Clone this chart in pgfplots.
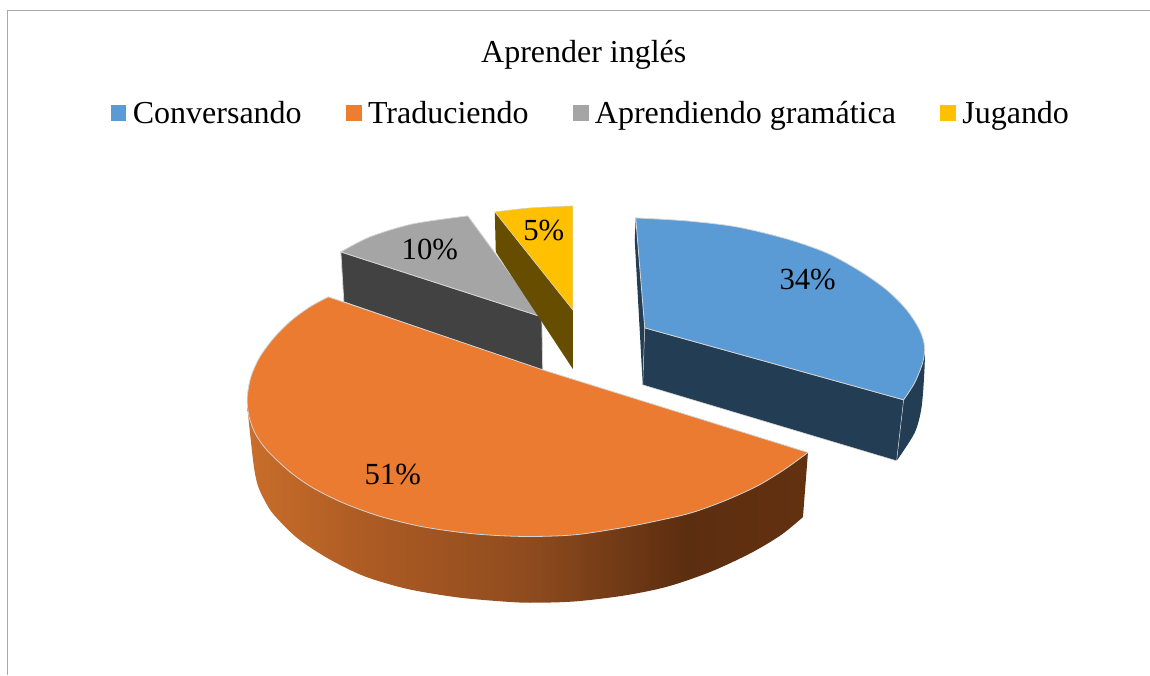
\documentclass[border=0pt]{standalone}
\usepackage{fontspec}
\setmainfont{Liberation Serif}
\usepackage{pgfplots}
\pgfplotsset{compat=1.18}
\definecolor{cblue}{HTML}{5B9BD5}
\definecolor{corange}{HTML}{ED7D31}
\definecolor{ctop}{HTML}{EA7B30}
\definecolor{cgray}{HTML}{A5A5A5}
\definecolor{cyellow}{HTML}{FFC000}
\definecolor{dblue}{HTML}{233D54}
\definecolor{dgray}{HTML}{424242}
\definecolor{dyellow}{HTML}{664D00}
\definecolor{edge}{HTML}{D4D4D4}
\definecolor{frame}{HTML}{A9A9A9}
\pgfdeclarehorizontalshading{orangeside}{100bp}{
 rgb(0bp)=(.788,.431,.169);
 rgb(25bp)=(.788,.431,.169);
 rgb(35bp)=(.682,.361,.141);
 rgb(50bp)=(.561,.294,.118);
 rgb(64bp)=(.361,.180,.063);
 rgb(75bp)=(.384,.192,.063);
 rgb(100bp)=(.384,.192,.063)}
\newcommand{\legsq}[1]{\addlegendimage{legend image code/.code={\fill[#1] (0pt,-7.5pt) rectangle (15pt,7.5pt);}}}
\begin{document}
\begin{tikzpicture}
\begin{axis}[
  width=1150pt,height=675pt,scale only axis,
  xmin=0,xmax=1150,ymin=0,ymax=675,y dir=reverse,
  axis lines=none,clip=false,
  every axis title shift=0pt,
  title={\fontsize{32}{38}\selectfont Aprender inglés},
  title style={at={(axis cs:584,63)},anchor=base,inner sep=0pt},
  legend style={at={(axis cs:590,113)},anchor=center,draw=none,fill=none,
    font=\fontsize{32}{38}\selectfont,legend columns=-1,
    inner sep=0pt,outer sep=0pt,
    /tikz/every even column/.append style={column sep=44pt},
    nodes={inner sep=0pt}},
]
\path (axis cs:0,0) rectangle (axis cs:1150,675);
% frame
\addplot[frame,line width=1pt,forget plot] coordinates {(7.5,675) (7.5,10.5) (1150,10.5)};

% gray slice
\addplot[fill=dgray,draw=edge,line width=0.8pt,forget plot] coordinates {(341,252) (542,317) (543,371) (344,302)} -- cycle;
\addplot[smooth,fill=cgray,draw=edge,line width=0.8pt,forget plot] coordinates {(341,252) (370,237) (413,224) (468,216)} -- (axis cs:542,317) -- cycle;

% yellow slice
\addplot[fill=dyellow,draw=none,forget plot] coordinates {(495,212) (573,310) (573,369) (496,252)} -- cycle;
\addplot[smooth,fill=cyellow,draw=edge,line width=0.5pt,forget plot] coordinates {(495,212) (530,208) (573,206)} -- (axis cs:573,310) -- cycle;

% blue slice
\addplot[fill=dblue,draw=none,forget plot] coordinates {(636,218) (645,328) (643,385) (635,240)} -- cycle;
\addplot[smooth,fill=dblue,draw=none,forget plot] coordinates {(925,347) (925,367) (922,407) (915,433) (897,461)} -- (axis cs:904,400) -- cycle;
\addplot[fill=dblue,draw=edge,line width=0.5pt,forget plot] coordinates {(645,328) (904,400) (897,461) (643,385)} -- cycle;
\addplot[smooth,fill=cblue,draw=edge,line width=0.8pt,forget plot] coordinates {(636,218) (687,221) (737,227) (787,239) (827,253) (860,271) (887,290) (907,310) (920,330) (925,347) (923,363) (915,383) (904,400)} -- (axis cs:645,328) -- cycle;

% orange slice: side then top
\addplot[smooth,shading=orangeside,draw=none,forget plot] coordinates {(247.5,408) (250,432) (254,467) (258,486) (265.5,502) (274,515) (297,538) (327,558) (363.3,576) (406.7,589) (456.7,597.5) (500,601.5) (530,603) (575,601.7) (625,595.7) (668.3,586.7) (711.7,571.7) (751.7,553) (781.7,535) (803.3,517.3)} -- (axis cs:808.3,452.7) -- cycle;
\addplot[smooth,fill=ctop,draw=edge,line width=0.8pt,forget plot] coordinates {(328.5,297) (310,307) (291,321) (274,338) (260,357) (251,377) (247.3,398) (249,416) (255,433) (266.7,450) (290,472) (313,488) (343,503) (380,516.5) (423,527) (473.3,534) (525,536.7) (575,535) (625,527.5) (660,520.5) (691.7,513) (725,501) (758,486) (785,469.5) (808.3,452.7)} -- (axis cs:543,370) -- cycle;

% labels
\node[anchor=base,inner sep=0pt,font=\fontsize{30.7}{36}\selectfont] at (axis cs:808,289.5) {34\%};
\node[anchor=base,inner sep=0pt,font=\fontsize{30.7}{36}\selectfont] at (axis cs:393,485) {51\%};
\node[anchor=base,inner sep=0pt,font=\fontsize{30.7}{36}\selectfont] at (axis cs:430,260) {10\%};
\node[anchor=base,inner sep=0pt,font=\fontsize{30.7}{36}\selectfont] at (axis cs:544,240.5) {5\%};

% legend
\legsq{cblue}\addlegendentry{\hspace{7pt}Conversando}
\legsq{corange}\addlegendentry{\hspace{7pt}Traduciendo}
\legsq{cgray}\addlegendentry{\hspace{7pt}Aprendiendo gramática}
\legsq{cyellow}\addlegendentry{\hspace{7pt}Jugando}
\end{axis}
\end{tikzpicture}
\end{document}
